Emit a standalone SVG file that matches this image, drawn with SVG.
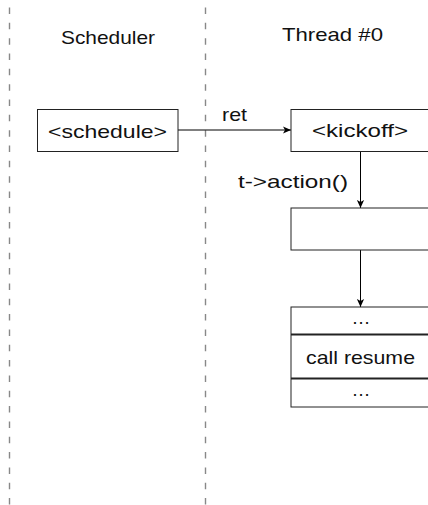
<svg xmlns="http://www.w3.org/2000/svg" width="428" height="505" viewBox="0 0 428 505">
  <defs>
    <marker id="arrow" viewBox="0 0 10 10" refX="10" refY="5" markerWidth="8" markerHeight="8" markerUnits="userSpaceOnUse" orient="auto">
      <path d="M0,0.5 L10,5 L0,9.5 L2.5,5 Z" fill="#000"/>
    </marker>
  </defs>
  <style>
    text { font-family: "Liberation Sans", "DejaVu Sans", sans-serif; font-size: 19px; fill: #111; }
    .box { fill: #fff; stroke: #222; stroke-width: 1; }
    .lane { stroke: #888; stroke-width: 1.4; stroke-dasharray: 6.5 8.83; fill: none; }
    .edge { stroke: #000; stroke-width: 1; fill: none; marker-end: url(#arrow); }
    .divider { stroke: #222; stroke-width: 1.8; }
  </style>

  <!-- swimlane separators -->
  <g id="lanes">
    <line class="lane" x1="9.5" y1="7.5" x2="9.5" y2="505"/>
    <line class="lane" x1="205.5" y1="7.5" x2="205.5" y2="505"/>
  </g>

  <!-- lane titles -->
  <g id="titles">
    <text x="61" y="44" textLength="94" lengthAdjust="spacingAndGlyphs">Scheduler</text>
    <text x="282" y="41" textLength="101" lengthAdjust="spacingAndGlyphs">Thread #0</text>
  </g>

  <!-- connectors -->
  <g id="connectors">
    <line class="edge" x1="178" y1="130" x2="291" y2="130"/>
    <text x="222" y="121" textLength="25" lengthAdjust="spacingAndGlyphs">ret</text>
    <line class="edge" x1="360.5" y1="151.5" x2="360.5" y2="208"/>
    <text x="238" y="187.5" textLength="110" lengthAdjust="spacingAndGlyphs">t-&gt;action()</text>
    <line class="edge" x1="360.5" y1="250" x2="360.5" y2="307"/>
  </g>

  <g id="schedule">
    <rect class="box" x="37.5" y="109.5" width="140.5" height="42"/>
    <text x="48" y="137.5" textLength="119" lengthAdjust="spacingAndGlyphs">&lt;schedule&gt;</text>
  </g>

  <g id="kickoff">
    <rect class="box" x="291" y="109.5" width="140" height="42"/>
    <text x="312" y="136.5" textLength="96" lengthAdjust="spacingAndGlyphs">&lt;kickoff&gt;</text>
  </g>

  <g id="action">
    <rect class="box" x="291" y="208" width="140" height="42"/>
  </g>

  <g id="stack">
    <rect class="box" x="291" y="307" width="140" height="100"/>
    <line class="divider" x1="291" y1="334.5" x2="431" y2="334.5"/>
    <line class="divider" x1="291" y1="378.5" x2="431" y2="378.5"/>
    <text x="361" y="324" text-anchor="middle">…</text>
    <text x="306" y="364" textLength="109" lengthAdjust="spacingAndGlyphs">call resume</text>
    <text x="361" y="396" text-anchor="middle">…</text>
  </g>
</svg>
